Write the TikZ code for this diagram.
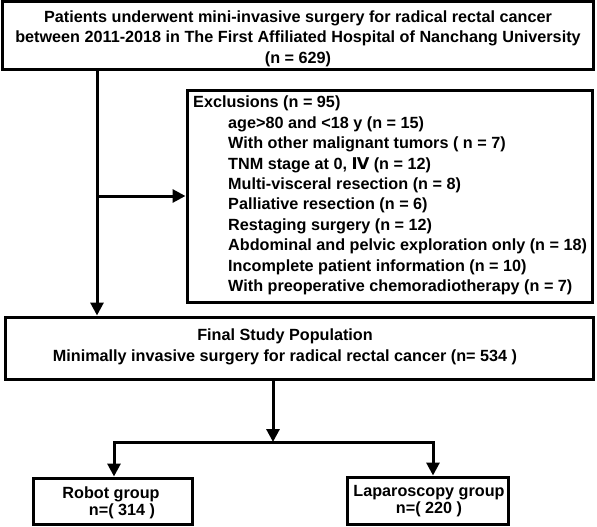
\documentclass[tikz,border=0pt]{standalone}
\usepackage{fontspec}
\setmainfont{Liberation Sans}
\newfontfamily\dvs{DejaVu Sans}
\usetikzlibrary{arrows.meta}
\begin{document}
\begin{tikzpicture}[x=1pt,y=-1pt,
  box/.style={draw, line width=3pt, inner sep=0pt},
  txt/.style={font=\bfseries\fontsize{16.2}{20.4}\selectfont, inner sep=0pt},
  small/.style={font=\bfseries\fontsize{16.2}{17}\selectfont, inner sep=0pt},
  conn/.style={line width=3pt},
  arr/.style={conn, -{Triangle[length=13pt,width=13pt]}}]
\useasboundingbox (0,0) rectangle (597,527);
\node[box, minimum width=591pt, minimum height=68pt] (top) at (297.5,36) {};
\node[txt, align=center] (toptext) at (298,38.5)
  {Patients underwent mini-invasive surgery for radical rectal cancer\\
   between 2011-2018 in The First Affiliated Hospital of Nanchang University\\
   (n = 629)};
\node[box, minimum width=405pt, minimum height=212pt] (excl) at (389.5,196) {};
\node[txt, align=left, anchor=west] (excltext) at (193,195.5)
  {Exclusions (n = 95)\\
   \hspace*{35pt}age>80 and <18 y (n = 15)\\
   \hspace*{35pt}With other malignant tumors ( n = 7)\\
   \hspace*{35pt}TNM stage at 0, {\dvs\bfseries Ⅳ} (n = 12)\\
   \hspace*{35pt}Multi-visceral resection (n = 8)\\
   \hspace*{35pt}Palliative resection (n = 6)\\
   \hspace*{35pt}Restaging surgery (n = 12)\\
   \hspace*{35pt}Abdominal and pelvic exploration only (n = 18)\\
   \hspace*{35pt}Incomplete patient information (n = 10)\\
   \hspace*{35pt}With preoperative chemoradiotherapy (n = 7)};
\node[box, minimum width=588pt, minimum height=62pt] (final) at (299,348) {};
\node[txt, align=center] (finaltext) at (285,347)
  {Final Study Population\\
   Minimally invasive surgery for radical rectal cancer (n= 534 )};
\node[box, minimum width=159pt, minimum height=46pt] (robot) at (112.5,501) {};
\node[small, align=center] (robottext) at (111,502.5)
  {Robot group\\\hspace*{22pt}n=( 314 )};
\node[box, minimum width=161pt, minimum height=47pt] (lap) at (427.5,500.5) {};
\node[small, align=center] (laptext) at (429,501.5)
  {Laparoscopy group\\n=( 220 )};
\coordinate (vx) at (97,0);
\coordinate (split) at (273,442);
\coordinate (ra) at (114,0);
\coordinate (la) at (433,0);
\draw[arr] (top.south -| vx) -- (final.north -| vx);
\draw[arr] (vx |- excl.west) -- (excl.west);
\draw[arr] (final.south -| split) -- (split);
\draw[arr] (split) -| (ra |- robot.north);
\draw[arr] (split) -| (la |- lap.north);
\end{tikzpicture}
\end{document}
